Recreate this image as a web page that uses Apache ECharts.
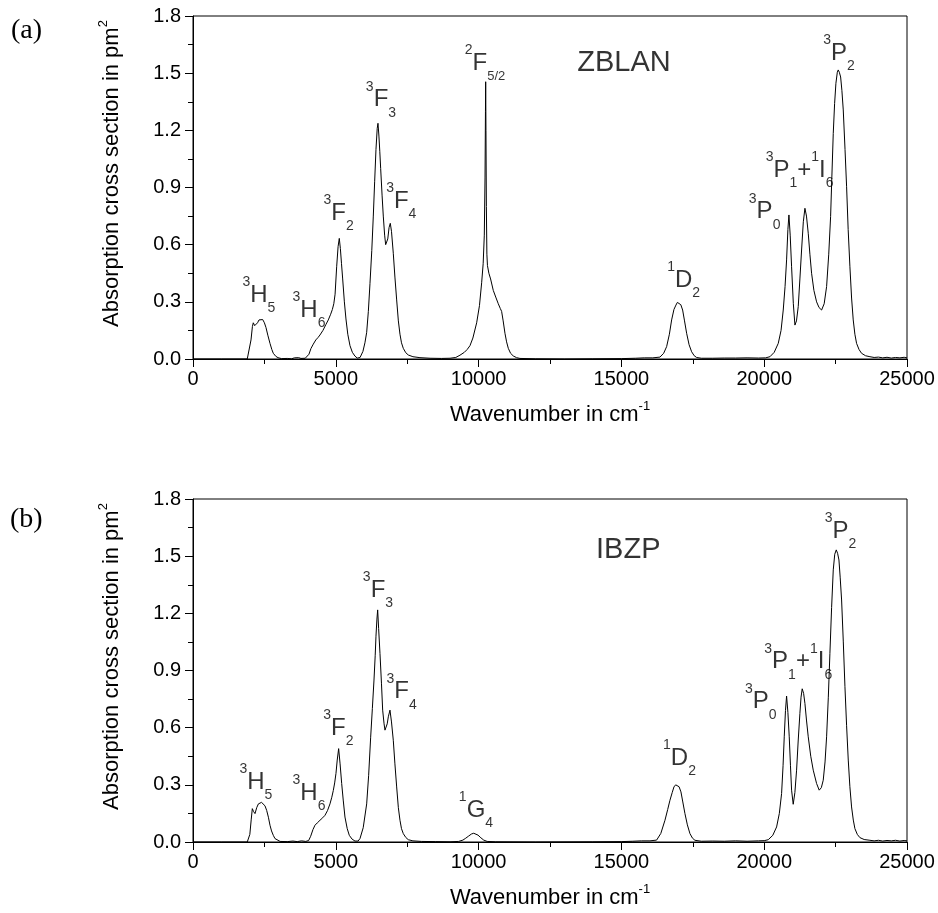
<!DOCTYPE html>
<html><head><meta charset="utf-8">
<script src="https://cdn.jsdelivr.net/npm/echarts/dist/echarts.min.js"></script>
<style>html,body{margin:0;padding:0;background:#fff}#c{width:938px;height:913px}</style>
</head><body><div id="c"></div>
<script>
// ---------- Panel (a): ZBLAN ----------
const zblanX = [0,1000,1900,1960,2031,2080,2111,2160,2210,2260,2311,2380,2440,2500,2556,2620,2696,2760,2811,2900,2976,3100,3300,3450,3550,3620,3700,3780,3850,3930,3990,4060,4130,4212,4300,4380,4446,4550,4650,4737,4820,4880,4930,4975,5030,5080,5122,5160,5200,5241,5300,5356,5420,5497,5580,5672,5750,5800,5850,5950,6020,6081,6140,6197,6260,6313,6360,6407,6450,6477,6510,6540,6571,6620,6663,6710,6746,6781,6820,6865,6908,6950,7013,7070,7131,7190,7247,7300,7363,7450,7538,7700,7947,8300,8700,9000,9200,9348,9500,9600,9698,9800,9932,10030,10107,10160,10200,10225,10240,10248,10258,10272,10290,10310,10360,10420,10514,10600,10689,10760,10806,10860,10923,10980,11040,11120,11214,11330,11448,12000,13000,14000,15000,15500,15800,16100,16350,16480,16584,16680,16759,16840,16910,16960,17015,17080,17144,17210,17284,17370,17459,17550,17634,17800,18200,18600,19000,19400,19800,20050,20201,20350,20492,20590,20667,20730,20784,20830,20866,20910,20959,21020,21076,21130,21192,21250,21309,21370,21426,21480,21542,21600,21659,21740,21834,21920,22010,22100,22185,22260,22325,22370,22418,22465,22511,22560,22592,22630,22676,22720,22768,22830,22885,22940,23001,23060,23117,23175,23234,23320,23409,23550,23702,23850,24000,24150,24300,24450,24600,24750,24900,25000];
const zblanY = [0,0,0,0.01,0.10,0.17,0.19,0.175,0.165,0.19,0.205,0.21,0.207,0.19,0.165,0.125,0.082,0.05,0.03,0.014,0.007,0.002,0.003,0.001,0.006,0.002,0.007,0.003,0.008,0.004,0.008,0.025,0.055,0.078,0.1,0.113,0.126,0.15,0.18,0.205,0.235,0.26,0.29,0.34,0.484,0.59,0.633,0.58,0.5,0.42,0.3,0.21,0.13,0.07,0.035,0.015,0.005,0.003,0.008,0.04,0.085,0.14,0.25,0.397,0.57,0.75,0.93,1.1,1.21,1.237,1.17,1.09,1.0,0.86,0.75,0.65,0.6,0.59,0.63,0.69,0.712,0.67,0.555,0.43,0.31,0.2,0.13,0.085,0.056,0.033,0.021,0.012,0.007,0.004,0.003,0.004,0.008,0.02,0.035,0.05,0.07,0.11,0.19,0.28,0.40,0.50,0.65,0.95,1.3,1.455,1.2,0.8,0.55,0.49,0.45,0.42,0.36,0.325,0.29,0.265,0.25,0.2,0.135,0.09,0.056,0.03,0.016,0.007,0.003,0.001,0,0.001,0.002,0.004,0.006,0.006,0.01,0.03,0.065,0.13,0.205,0.26,0.283,0.297,0.30,0.285,0.257,0.2,0.135,0.075,0.038,0.017,0.008,0.004,0.004,0.005,0.005,0.006,0.005,0.006,0.012,0.035,0.082,0.15,0.257,0.38,0.52,0.68,0.756,0.65,0.484,0.29,0.178,0.2,0.275,0.42,0.572,0.72,0.791,0.75,0.66,0.55,0.45,0.36,0.3,0.27,0.257,0.29,0.38,0.55,0.747,0.96,1.184,1.34,1.447,1.505,1.517,1.505,1.48,1.41,1.307,1.1,0.904,0.68,0.484,0.32,0.205,0.13,0.082,0.05,0.03,0.017,0.012,0.008,0.01,0.006,0.009,0.005,0.008,0.006,0.009,0.006];

// ---------- Panel (b): IBZP ----------
const ibzpX = [0,1000,1900,1936,1990,2040,2077,2120,2171,2230,2290,2346,2400,2462,2520,2579,2640,2696,2750,2812,2870,2929,3050,3300,3500,3650,3800,3950,4050,4120,4200,4271,4350,4446,4540,4621,4710,4796,4860,4912,4960,5006,5050,5100,5150,5206,5260,5321,5400,5473,5570,5672,5780,5847,5960,6081,6150,6221,6280,6337,6380,6407,6440,6466,6500,6547,6600,6641,6690,6722,6757,6800,6839,6897,6950,7013,7070,7131,7190,7247,7300,7363,7450,7538,7700,8000,8500,9000,9300,9450,9550,9650,9750,9830,9900,9980,10080,10180,10300,10600,12000,14000,15000,15400,15700,16000,16233,16380,16525,16620,16700,16780,16840,16900,16956,17020,17085,17150,17225,17310,17400,17490,17575,17800,18200,18600,19000,19400,19800,20000,20142,20300,20434,20530,20609,20660,20702,20745,20784,20830,20877,20920,20959,21016,21075,21134,21190,21250,21290,21331,21380,21426,21480,21542,21630,21717,21834,21926,22000,22067,22130,22185,22245,22301,22360,22418,22470,22523,22570,22617,22660,22710,22770,22827,22885,22943,23000,23059,23120,23176,23260,23351,23500,23702,23850,24000,24150,24300,24450,24600,24750,24900,25000];
const ibzpY = [0,0,0,0.002,0.04,0.12,0.175,0.16,0.149,0.18,0.2,0.205,0.208,0.205,0.19,0.166,0.13,0.088,0.058,0.035,0.018,0.009,0.003,0.002,0.005,0.002,0.006,0.003,0.008,0.03,0.065,0.088,0.1,0.114,0.127,0.14,0.165,0.2,0.235,0.27,0.31,0.36,0.43,0.49,0.41,0.307,0.22,0.131,0.07,0.035,0.015,0.005,0.005,0.018,0.075,0.2,0.35,0.55,0.7,0.85,0.98,1.08,1.17,1.218,1.12,0.99,0.83,0.692,0.62,0.587,0.578,0.62,0.657,0.692,0.63,0.534,0.41,0.289,0.18,0.114,0.07,0.044,0.024,0.012,0.006,0.003,0.002,0.001,0.003,0.01,0.02,0.031,0.042,0.046,0.044,0.036,0.022,0.01,0.003,0.001,0,0.001,0.002,0.004,0.006,0.006,0.01,0.045,0.114,0.17,0.219,0.26,0.289,0.3,0.303,0.29,0.263,0.21,0.149,0.09,0.044,0.02,0.009,0.004,0.005,0.004,0.006,0.004,0.006,0.007,0.012,0.035,0.079,0.15,0.254,0.4,0.552,0.69,0.766,0.68,0.552,0.4,0.272,0.198,0.26,0.377,0.53,0.675,0.76,0.804,0.78,0.727,0.64,0.552,0.45,0.377,0.307,0.272,0.285,0.324,0.42,0.552,0.76,0.99,1.23,1.428,1.51,1.533,1.515,1.48,1.39,1.27,1.05,0.815,0.61,0.43,0.29,0.184,0.115,0.07,0.04,0.023,0.013,0.009,0.006,0.009,0.005,0.008,0.006,0.009,0.005,0.008,0.006];

// ---------- Axis ticks ----------
const xMin = 0, xMax = 25000, xStep = 5000;
const yMin = 0, yMax = 1.8, yStep = 0.3;

// ---------- Annotations (data coordinates) ----------
const annoAX = [2305, 4062, 5100, 6582, 7293, 10223, 15090, 17180, 20015, 21240, 22617];
const annoAY = [0.336, 0.257, 0.765, 1.36, 0.826, 1.552, 1.552, 0.415, 0.773, 0.992, 1.604];
const annoAText = ['{sup|3}{m|H}{sub|5}','{sup|3}{m|H}{sub|6}','{sup|3}{m|F}{sub|2}','{sup|3}{m|F}{sub|3}','{sup|3}{m|F}{sub|4}','{sup|2}{m|F}{sub2|5/2}','{big|ZBLAN}','{sup|1}{m|D}{sub|2}','{sup|3}{m|P}{sub|0}','{sup|3}{m|P}{sub|1}{m|+}{sup|1}{m|I}{sub|6}','{sup|3}{m|P}{sub|2}'];
const annoBX = [2200, 4061, 5088, 6477, 7306, 9908, 15240, 17033, 19880, 21192, 22670];
const annoBY = [0.315, 0.254, 0.596, 1.32, 0.789, 0.167, 1.53, 0.438, 0.736, 0.946, 1.63];
const annoBText = ['{sup|3}{m|H}{sub|5}','{sup|3}{m|H}{sub|6}','{sup|3}{m|F}{sub|2}','{sup|3}{m|F}{sub|3}','{sup|3}{m|F}{sub|4}','{sup|1}{m|G}{sub|4}','{big|IBZP}','{sup|1}{m|D}{sub|2}','{sup|3}{m|P}{sub|0}','{sup|3}{m|P}{sub|1}{m|+}{sup|1}{m|I}{sub|6}','{sup|3}{m|P}{sub|2}'];

const FONT = 'Liberation Sans, Arial, Helvetica, sans-serif';
const zip = (xs, ys) => xs.map((x, i) => [x, ys[i]]);
const annoData = (xs, ys, ts) => xs.map((x, i) => ({value: [x, ys[i]], label: {formatter: ts[i]}}));

const rich = {
  m:   {fontFamily: FONT, fontSize: 24, lineHeight: 40, color: '#000'},
  big: {fontFamily: FONT, fontSize: 29, lineHeight: 40, color: '#000'},
  sup: {fontFamily: FONT, fontSize: 14, lineHeight: 35, verticalAlign: 'top', color: '#000'},
  sub: {fontFamily: FONT, fontSize: 14, lineHeight: 15, verticalAlign: 'bottom', color: '#000'},
  sub2:{fontFamily: FONT, fontSize: 13, lineHeight: 15, verticalAlign: 'bottom', color: '#000'}
};

function xAxisCfg(idx) {
  return {
    type: 'value', gridIndex: idx, min: xMin, max: xMax, interval: xStep,
    name: '{n|Wavenumber in cm}{s|-1}', nameLocation: 'middle', nameGap: 41,
    nameTextStyle: {rich: {
      n: {fontFamily: FONT, fontSize: 22, lineHeight: 30, color: '#000'},
      s: {fontFamily: FONT, fontSize: 13, lineHeight: 26, verticalAlign: 'top', color: '#000'}
    }},
    axisLine: {show: true, onZero: false, lineStyle: {color: '#000', width: 1}},
    axisTick: {show: true, inside: false, length: 8, lineStyle: {color: '#000', width: 1}},
    minorTick: {show: true, splitNumber: 2, length: 5, lineStyle: {color: '#000', width: 1}},
    axisLabel: {color: '#000', fontFamily: FONT, fontSize: 20, margin: 10, formatter: v => String(v)},
    splitLine: {show: false}
  };
}
function yAxisCfg(idx) {
  return {
    type: 'value', gridIndex: idx, min: yMin, max: yMax, interval: yStep,
    name: '{n|Absorption cross section in pm}{s|2}', nameLocation: 'middle', nameGap: 66,
    nameRotate: 90,
    nameTextStyle: {padding: [0, 0, 0, 28], rich: {
      n: {fontFamily: FONT, fontSize: 22, lineHeight: 30, color: '#000'},
      s: {fontFamily: FONT, fontSize: 13, lineHeight: 26, verticalAlign: 'top', color: '#000'}
    }},
    axisLine: {show: true, onZero: false, lineStyle: {color: '#000', width: 1}},
    axisTick: {show: true, inside: false, length: 8, lineStyle: {color: '#000', width: 1}},
    minorTick: {show: true, splitNumber: 2, length: 5, lineStyle: {color: '#000', width: 1}},
    axisLabel: {color: '#000', fontFamily: FONT, fontSize: 20, margin: 12, formatter: v => v.toFixed(1)},
    splitLine: {show: false}
  };
}

const chart = echarts.init(document.getElementById('c'), null, {renderer: 'canvas'});
chart.setOption({
  animation: false,
  backgroundColor: '#fff',
  grid: [
    {left: 193, top: 16, width: 714, height: 343, show: true, borderColor: '#000', borderWidth: 1, backgroundColor: 'transparent'},
    {left: 193, top: 499, width: 714, height: 343, show: true, borderColor: '#000', borderWidth: 1, backgroundColor: 'transparent'}
  ],
  xAxis: [xAxisCfg(0), xAxisCfg(1)],
  yAxis: [yAxisCfg(0), yAxisCfg(1)],
  graphic: [
    {type: 'text', left: 11, top: 17, style: {text: '(a)', font: '28px "Liberation Serif", "Times New Roman", serif', fill: '#000'}},
    {type: 'text', left: 10, top: 506, style: {text: '(b)', font: '28px "Liberation Serif", "Times New Roman", serif', fill: '#000'}}
  ],
  series: [
    {type: 'line', xAxisIndex: 0, yAxisIndex: 0, data: zip(zblanX, zblanY), showSymbol: false, symbol: 'none',
     lineStyle: {color: '#000', width: 1}, smooth: false},
    {type: 'line', xAxisIndex: 1, yAxisIndex: 1, data: zip(ibzpX, ibzpY), showSymbol: false, symbol: 'none',
     lineStyle: {color: '#000', width: 1}, smooth: false},
    {type: 'scatter', xAxisIndex: 0, yAxisIndex: 0, symbolSize: 0, data: annoData(annoAX, annoAY, annoAText),
     label: {show: true, position: 'inside', align: 'center', verticalAlign: 'middle', rich: rich}, silent: true},
    {type: 'scatter', xAxisIndex: 1, yAxisIndex: 1, symbolSize: 0, data: annoData(annoBX, annoBY, annoBText),
     label: {show: true, position: 'inside', align: 'center', verticalAlign: 'middle', rich: rich}, silent: true}
  ]
});
</script></body></html>
